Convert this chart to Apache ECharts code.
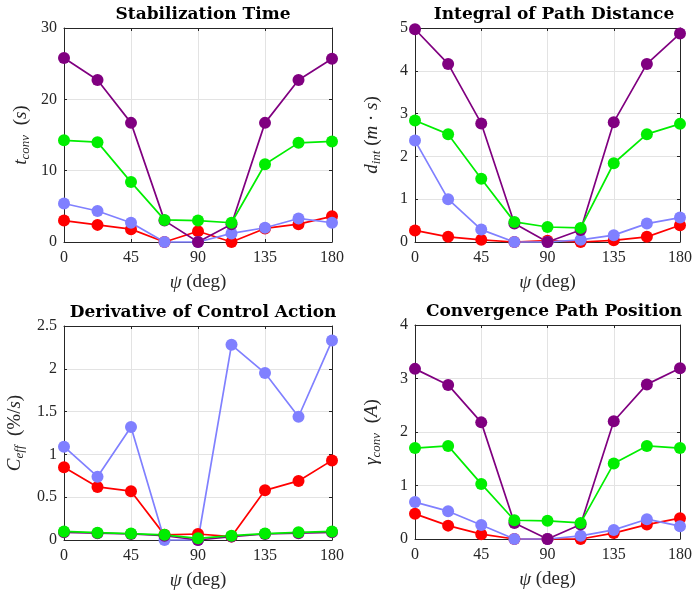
<!DOCTYPE html>
<html><head><meta charset="utf-8">
<script src="https://cdn.jsdelivr.net/npm/echarts@6/dist/echarts.min.js"></script>
<style>html,body{margin:0;padding:0;background:#fff}#c{width:695px;height:593px}</style>
</head><body><div id="c"></div>
<script>
const psi = [0, 22.5, 45, 67.5, 90, 112.5, 135, 157.5, 180];
const xTicks = [0, 45, 90, 135, 180];

// Stabilization Time
const tPurple = [25.8, 22.7, 16.7, 3.0, 0, 2.5, 16.7, 22.7, 25.7];
const tGreen  = [14.25, 14.0, 8.4, 3.1, 3.0, 2.7, 10.9, 13.9, 14.1];
const tBlue   = [5.4, 4.35, 2.7, 0, 0, 1.2, 2.0, 3.3, 2.7];
const tRed    = [3.0, 2.4, 1.8, 0, 1.5, 0, 1.9, 2.5, 3.6];

// Integral of Path Distance
const dPurple = [4.97, 4.16, 2.77, 0.43, 0, 0.28, 2.8, 4.16, 4.87];
const dGreen  = [2.84, 2.52, 1.48, 0.47, 0.35, 0.33, 1.84, 2.52, 2.76];
const dBlue   = [2.37, 1.0, 0.29, 0, 0, 0.05, 0.16, 0.43, 0.57];
const dRed    = [0.27, 0.12, 0.05, 0, 0.03, 0, 0.04, 0.12, 0.39];

// Derivative of Control Action
const cPurple = [0.09, 0.08, 0.07, 0.05, 0.0, 0.04, 0.07, 0.08, 0.09];
const cGreen  = [0.1, 0.085, 0.075, 0.06, 0.02, 0.05, 0.075, 0.09, 0.1];
const cBlue   = [1.09, 0.74, 1.32, 0, 0, 2.28, 1.95, 1.44, 2.33];
const cRed    = [0.85, 0.62, 0.57, 0.06, 0.07, 0.04, 0.58, 0.69, 0.93];

// Convergence Path Position
const gPurple = [3.18, 2.88, 2.18, 0.3, 0, 0.27, 2.2, 2.89, 3.19];
const gGreen  = [1.70, 1.74, 1.03, 0.35, 0.34, 0.30, 1.41, 1.74, 1.70];
const gBlue   = [0.69, 0.52, 0.26, 0, 0, 0.06, 0.17, 0.37, 0.24];
const gRed    = [0.47, 0.25, 0.09, 0, 0, 0, 0.11, 0.27, 0.39];

const titles = ['Stabilization Time', 'Integral of Path Distance', 'Derivative of Control Action', 'Convergence Path Position'];
const yMax = [30, 5, 2.5, 4];
const yInt = [10, 1, 0.5, 1];
const panels = [
  {red: tRed, blue: tBlue, purple: tPurple, green: tGreen},
  {red: dRed, blue: dBlue, purple: dPurple, green: dGreen},
  {red: cRed, blue: cBlue, purple: cPurple, green: cGreen},
  {red: gRed, blue: gBlue, purple: gPurple, green: gGreen}
];
const yNames = [
  '{i|t}{sub|conv}{n|  (}{i|s}{n|)}',
  '{i|d}{sub|int}{n| (}{i|m}{n| · }{i|s}{n|)}',
  '{i|C}{sub|eff}{n|  (%/}{i|s}{n|)}',
  '{i|γ}{sub|conv}{n|  (}{i|A}{n|)}'
];

const FONT = 'Liberation Serif';
const TFONT = 'DejaVu Serif';
const AX = '#262626';
const colors = {red: '#ff0000', blue: '#8080ff', purple: '#800080', green: '#00ee00'};
const order = ['red', 'blue', 'purple', 'green'];

const grids = [
  {left: 64, top: 28, width: 268, height: 214},
  {left: 415, top: 28, width: 268, height: 214},
  {left: 64, top: 326, width: 268, height: 214},
  {left: 415, top: 325, width: 268, height: 214}
];

const tickOnly = {show: true, inside: true, length: 3, lineStyle: {color: AX}};

const xAxes = [];
const yAxes = [];
grids.forEach((g, i) => {
  xAxes.push({
    type: 'value', gridIndex: i, min: 0, max: 180, interval: 45,
    name: '{i|ψ}{n| (deg)}', nameLocation: 'middle', nameGap: 31,
    nameTextStyle: {rich: {i: {fontFamily: FONT, fontStyle: 'italic', fontSize: 19, color: AX}, n: {fontFamily: FONT, fontSize: 19, color: AX}}},
    axisLine: {show: true, onZero: false, lineStyle: {color: AX}},
    axisTick: tickOnly,
    axisLabel: {fontFamily: FONT, fontSize: 16, color: AX, margin: 8},
    splitLine: {show: true, lineStyle: {color: '#e3e3e3', width: 1}}
  });
  yAxes.push({
    type: 'value', gridIndex: i, min: 0, max: yMax[i], interval: yInt[i],
    name: yNames[i], nameLocation: 'middle', nameGap: i === 2 ? 38 : 32, nameRotate: 90,
    nameTextStyle: {rich: {
      i: {fontFamily: FONT, fontStyle: 'italic', fontSize: 19, color: AX},
      n: {fontFamily: FONT, fontSize: 19, color: AX},
      sub: {fontFamily: FONT, fontStyle: 'italic', fontSize: 13, color: AX, padding: [9, 0, 0, 0]}
    }},
    axisLine: {show: true, lineStyle: {color: AX}},
    axisTick: tickOnly,
    axisLabel: {fontFamily: FONT, fontSize: 16, color: AX, margin: 7},
    splitLine: {show: true, lineStyle: {color: '#e3e3e3', width: 1}}
  });
});
// mirrored box ticks (top / right)
grids.forEach((g, i) => {
  xAxes.push({
    type: 'value', gridIndex: i, min: 0, max: 180, interval: 45, position: 'top',
    axisLine: {show: true, onZero: false, lineStyle: {color: AX}},
    axisTick: tickOnly, axisLabel: {show: false}, splitLine: {show: false}
  });
  yAxes.push({
    type: 'value', gridIndex: i, min: 0, max: yMax[i], interval: yInt[i], position: 'right',
    axisLine: {show: true, onZero: false, lineStyle: {color: AX}},
    axisTick: tickOnly, axisLabel: {show: false}, splitLine: {show: false}
  });
});

const option = {
  animation: false,
  backgroundColor: '#fff',
  title: titles.map((t, i) => ({
    text: t,
    left: grids[i].left + grids[i].width / 2,
    top: grids[i].top - 27,
    textAlign: 'center',
    textStyle: {fontFamily: TFONT, fontWeight: 'bold', fontSize: 17, color: '#000'}
  })),
  grid: grids.map(g => Object.assign({show: false}, g)),
  xAxis: xAxes,
  yAxis: yAxes,
  series: []
};

panels.forEach((p, i) => {
  order.forEach(k => {
    option.series.push({
      type: 'line', xAxisIndex: i, yAxisIndex: i,
      data: psi.map((x, j) => [x, p[k][j]]),
      symbol: 'circle', symbolSize: 12,
      lineStyle: {color: colors[k], width: 1.7},
      itemStyle: {color: colors[k]},
      clip: false
    });
  });
});

echarts.init(document.getElementById('c')).setOption(option);
</script></body></html>
